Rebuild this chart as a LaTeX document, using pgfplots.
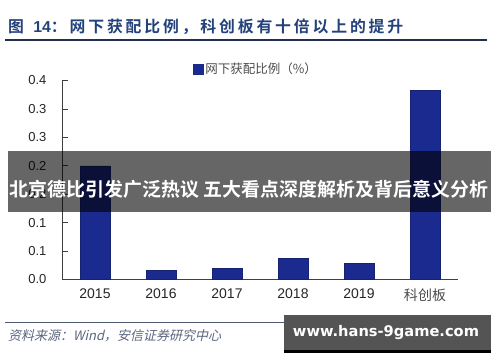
\documentclass[border=0pt]{standalone}
\usepackage{fontspec}
\setmainfont{Liberation Sans}
\newfontfamily\cjk{Noto Sans CJK SC}
\newfontfamily\cjkb{Noto Sans CJK SC Bold}[LetterSpace=18]
\newfontfamily\cjkbb{Noto Sans CJK SC Bold}
\newfontfamily\cjkit{Noto Sans CJK SC}[FakeSlant=0.22]
\newfontfamily\wm{DejaVu Sans Bold}
\usepackage{pgfplots}
\pgfplotsset{compat=1.18}
\definecolor{barblue}{HTML}{1B2A8E}
\definecolor{titleblue}{HTML}{24427A}
\definecolor{lineblue}{HTML}{22304E}
\definecolor{srcgray}{HTML}{5C6680}
\begin{document}
\begin{tikzpicture}[x=1pt,y=1pt]
\fill[white] (0,0) rectangle (500,362);
% title
\node[anchor=west, text=titleblue, inner sep=0pt] at (8,335.5)
  {\resizebox{395pt}{!}{\cjkb 图 \textbf{\fontspec{Liberation Sans}14}：网下获配比例，科创板有十倍以上的提升}};
\draw[lineblue, line width=1.4pt] (5,322) -- (487,322);
\begin{axis}[
  at={(62pt,82.5pt)}, anchor=south west,
  scale only axis, width=396pt, height=199pt,
  xmin=-0.5, xmax=5.5, ymin=0, ymax=0.35,
  axis x line=bottom, axis y line=left,
  axis line style={-, draw=black!75, line width=0.8pt},
  tick align=inside,
  ytick={0,0.05,0.1,0.15,0.2,0.25,0.3,0.35},
  yticklabels={0.0,0.1,0.1,0.2,0.2,0.3,0.3,0.4},
  xtick={0,1,2,3,4,5},
  xticklabels={2015,2016,2017,2018,2019,{\cjk\color{black!70}科创板}},
  major x tick style={draw=none},
  extra x ticks={-0.5,0.5,1.5,2.5,3.5,4.5,5.5},
  extra x tick labels={},
  extra x tick style={major tick length=6pt, tick style={draw=black!75, line width=0.7pt}},
  major tick length=6pt,
  y tick style={draw=black!75, line width=0.7pt},
  /pgf/number format/assume math mode=true,
  yticklabel style={font=\fontsize{13}{13}\selectfont, text=black!85, xshift=-12pt},
  xticklabel style={font=\fontsize{14}{14}\selectfont, text=black!85, yshift=-6pt},
  legend style={draw=none, fill=none, at={(0.49,1)}, anchor=south, yshift=3pt,
    font=\cjk\fontsize{12.5}{12.5}\selectfont, text=black!70,
    inner sep=0pt, cells={anchor=west}},
  legend image code/.code={\fill[barblue] (0pt,-5pt) rectangle (10pt,5pt);},
]
\addplot[ybar, bar width=30pt, fill=barblue, draw=barblue!80!black, line width=0.4pt]
  coordinates {(0,0.200) (1,0.016) (2,0.019) (3,0.037) (4,0.029) (5,0.333)};
\addlegendentry{网下获配比例（\%）}
\end{axis}
% bottom source
\draw[lineblue!80, line width=0.9pt] (5,40) -- (487,40);
\node[anchor=west, text=srcgray, inner sep=0pt] at (8,26.3)
  {\cjkit\fontsize{13}{13}\selectfont 资料来源：Wind，安信证券研究中心};
% banner overlay
\fill[black, opacity=0.6] (8,150) rectangle (491,211);
\node[text=white, inner sep=0pt] at (249,173)
  {\resizebox{478pt}{!}{\cjkbb 北京德比引发广泛热议 五大看点深度解析及背后意义分析}};
% watermark
\fill[black!67] (284,12) rectangle (491,47);
\fill[black] (284,9.3) rectangle (491,12);
\node[text=white, inner sep=0pt] at (386,29)
  {\resizebox{186pt}{!}{\wm www.hans-9game.com}};
\pgfresetboundingbox
\useasboundingbox (0,0) rectangle (500,362);
\end{tikzpicture}
\end{document}
